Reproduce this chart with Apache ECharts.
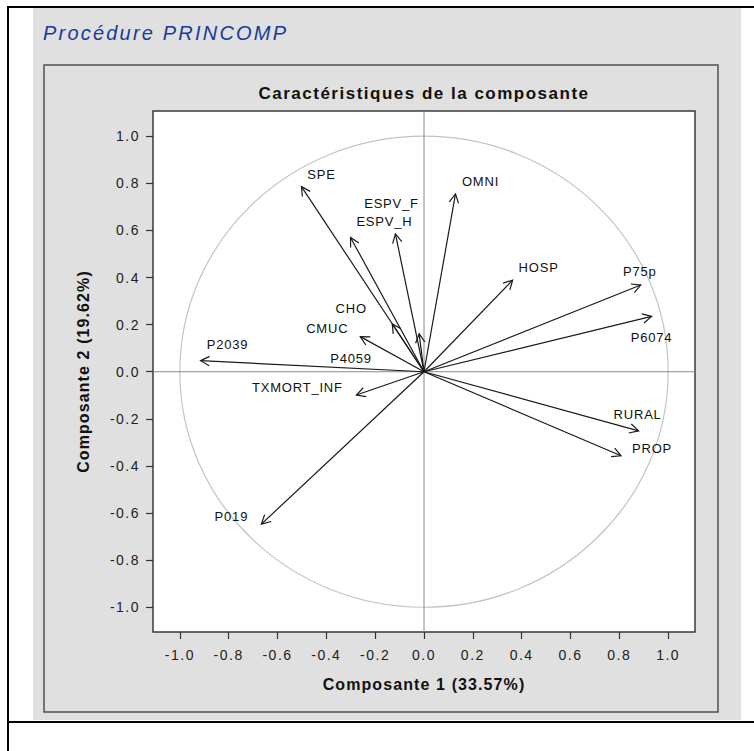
<!DOCTYPE html>
<html>
<head>
<meta charset="utf-8">
<script src="https://cdn.jsdelivr.net/npm/echarts@6/dist/echarts.min.js"></script>
<style>
  html, body { margin: 0; padding: 0; background: #ffffff; }
  #chart { width: 754px; height: 751px; }
  #chart svg text[style*="13px"] { letter-spacing: 0.8px; }
  #chart svg text[style*="14px"] { letter-spacing: 1.5px; }
  #chart svg text[style*="16px"] { letter-spacing: 1.1px; }
  #chart svg text[style*="17px"] { letter-spacing: 1.5px; }
  #chart svg text[style*="20px"] { letter-spacing: 2.2px; }
</style>
</head>
<body>
<div id="chart"></div>
<script>
// ---- Data (component loadings) ----
const variables = ['SPE', 'ESPV_F', 'ESPV_H', 'OMNI', 'HOSP', 'P75p', 'P6074', 'RURAL', 'PROP',
                   'TXMORT_INF', 'P019', 'P2039', 'CHO', 'CMUC', 'P4059'];
const comp1 = [-0.502, -0.301, -0.117, 0.129, 0.363, 0.888, 0.932, 0.879, 0.807,
               -0.277, -0.666, -0.915, -0.130, -0.261, -0.020];
const comp2 = [0.786, 0.570, 0.585, 0.755, 0.389, 0.368, 0.235, -0.251, -0.357,
               -0.099, -0.647, 0.047, 0.203, 0.149, 0.161];
const tickValues = [-1.0, -0.8, -0.6, -0.4, -0.2, 0.0, 0.2, 0.4, 0.6, 0.8, 1.0];
const headerText = 'Procédure PRINCOMP';
const chartTitle = 'Caractéristiques de la composante';
const xAxisName = 'Composante 1 (33.57%)';
const yAxisName = 'Composante 2 (19.62%)';

// ---- Label placement (pixel offsets from arrow tip; layout only) ----
const labelOffsets = {
  'SPE': [20, -12], 'ESPV_F': [41, -34], 'ESPV_H': [-11, -12.6], 'OMNI': [25, -12],
  'HOSP': [26, -12.6], 'P75p': [-1, -13.6], 'P6074': [0, 21], 'RURAL': [-1, -16.7],
  'PROP': [31, -7], 'TXMORT_INF': [-59, -8], 'P019': [-30, -8], 'P2039': [27, -16],
  'CHO': [-41, -15], 'CMUC': [-33, -8], 'P4059': [-68, 25]
};

const FONT = 'Liberation Sans';
const chart = echarts.init(document.getElementById('chart'), null, { renderer: 'svg' });

const arrowData = variables.map((n, i) => [comp1[i], comp2[i]]);

function renderArrow(params, api) {
  const o = api.coord([0, 0]);
  const p = api.coord([api.value(0), api.value(1)]);
  const a = Math.atan2(p[1] - o[1], p[0] - o[0]);
  const L = 10, th = 28 * Math.PI / 180;
  const b1 = [p[0] - L * Math.cos(a - th), p[1] - L * Math.sin(a - th)];
  const b2 = [p[0] - L * Math.cos(a + th), p[1] - L * Math.sin(a + th)];
  const name = variables[params.dataIndex];
  const off = labelOffsets[name] || [0, -12];
  const stroke = { stroke: '#1a1a1a', lineWidth: 1.2, fill: null };
  return {
    type: 'group',
    children: [
      { type: 'line', shape: { x1: o[0], y1: o[1], x2: p[0], y2: p[1] }, style: stroke },
      { type: 'polyline', shape: { points: [b1, p, b2] }, style: stroke },
      { type: 'text', style: {
          text: name, x: p[0] + off[0], y: p[1] + off[1],
          align: 'center', verticalAlign: 'middle',
          fontSize: 13, fontFamily: FONT, fill: '#111' } }
    ]
  };
}

function renderReference(params, api) {
  const cs = params.coordSys;
  const o = api.coord([0, 0]);
  const rx = api.size([1, 0])[0];
  const ry = api.size([0, 1])[1];
  return {
    type: 'group',
    children: [
      { type: 'ellipse', shape: { cx: o[0], cy: o[1], rx: rx, ry: ry },
        style: { stroke: '#c4c4c4', lineWidth: 1.2, fill: null } },
      { type: 'line', shape: { x1: o[0], y1: cs.y, x2: o[0], y2: cs.y + cs.height },
        style: { stroke: '#8a8a8a', lineWidth: 1 } },
      { type: 'line', shape: { x1: cs.x, y1: o[1], x2: cs.x + cs.width, y2: o[1] },
        style: { stroke: '#8a8a8a', lineWidth: 1 } }
    ]
  };
}

const fmt = v => Number(v).toFixed(1);

chart.setOption({
  animation: false,
  backgroundColor: '#ffffff',
  graphic: [
    { type: 'rect', z: -10, shape: { x: 33, y: 8, width: 708, height: 712 },
      style: { fill: '#e0e0e0' } },
    { type: 'rect', z: -9, shape: { x: 44, y: 65, width: 674, height: 647 },
      style: { fill: null, stroke: '#505050', lineWidth: 1.5 } },
    { type: 'line', z: 5, shape: { x1: 8, y1: 7, x2: 754, y2: 7 },
      style: { stroke: '#000', lineWidth: 2 } },
    { type: 'line', z: 5, shape: { x1: 8, y1: 6, x2: 8, y2: 751 },
      style: { stroke: '#000', lineWidth: 2 } },
    { type: 'line', z: 5, shape: { x1: 8, y1: 722, x2: 754, y2: 722 },
      style: { stroke: '#000', lineWidth: 2 } }
  ],
  title: [
    { text: headerText, left: 43, top: 33, padding: 0,
      textAlign: 'left', textVerticalAlign: 'middle',
      textStyle: { fontFamily: FONT, fontSize: 20, fontStyle: 'italic', fontWeight: 'normal', color: '#183a9a' } },
    { text: chartTitle, left: 424, top: 93, padding: 0,
      textAlign: 'center', textVerticalAlign: 'middle',
      textStyle: { fontFamily: FONT, fontSize: 17, fontWeight: 'bold', color: '#111' } }
  ],
  grid: {
    left: 153, top: 111, width: 542, height: 521,
    show: true, backgroundColor: '#ffffff', borderColor: '#3a3a3a', borderWidth: 1.5,
    containLabel: false
  },
  xAxis: {
    type: 'value', min: -1.11, max: 1.11,
    name: xAxisName, nameLocation: 'middle', nameGap: 44,
    nameTextStyle: { fontFamily: FONT, fontSize: 16, fontWeight: 'bold', color: '#111' },
    axisLine: { show: false, onZero: false },
    splitLine: { show: false },
    axisTick: { show: true, length: 7, inside: false, customValues: tickValues,
      lineStyle: { color: '#333', width: 1.2 } },
    axisLabel: { customValues: tickValues, formatter: fmt, margin: 16,
      fontFamily: FONT, fontSize: 14, color: '#222' }
  },
  yAxis: {
    type: 'value', min: -1.105, max: 1.107,
    name: yAxisName, nameLocation: 'middle', nameGap: 62, nameRotate: 90,
    nameTextStyle: { fontFamily: FONT, fontSize: 16, fontWeight: 'bold', color: '#111' },
    axisLine: { show: false, onZero: false },
    splitLine: { show: false },
    axisTick: { show: true, length: 7, inside: false, customValues: tickValues,
      lineStyle: { color: '#333', width: 1.2 } },
    axisLabel: { customValues: tickValues, formatter: fmt, margin: 13,
      fontFamily: FONT, fontSize: 14, color: '#222' }
  },
  series: [
    { type: 'custom', name: 'reference', renderItem: renderReference,
      data: [[0, 0]], encode: { x: 0, y: 1 }, z: 1, silent: true, clip: false },
    { type: 'custom', name: 'loadings', renderItem: renderArrow,
      data: arrowData, encode: { x: 0, y: 1 }, z: 2, clip: false }
  ]
});
</script>
</body>
</html>
